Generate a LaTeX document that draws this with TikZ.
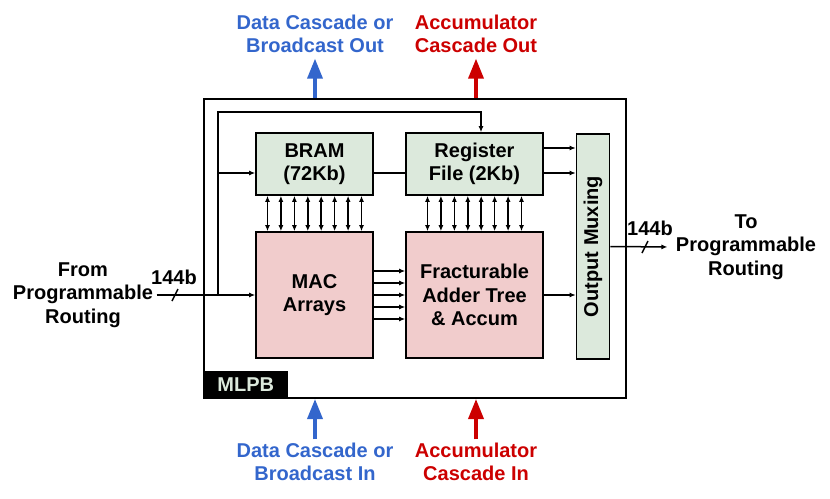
\documentclass[tikz,border=0pt]{standalone}
\usepackage{fontspec}
\setmainfont{Liberation Sans}
\usepackage{tikz}
\usetikzlibrary{arrows.meta}
\definecolor{blockgreen}{RGB}{220,233,220}
\definecolor{blockpink}{RGB}{241,204,204}
\definecolor{cascblue}{RGB}{51,102,204}
\definecolor{cascred}{RGB}{204,0,0}
\tikzstyle{lbl}=[font=\fontsize{20}{23.5}\selectfont\bfseries,align=center]
\tikzstyle{block}=[draw,line width=1.6pt,inner sep=0pt,lbl]
\tikzstyle{wire}=[line width=1.5pt]
\tikzstyle{bigup}=[line width=3.5pt,-{Triangle[width=15pt,length=20pt]}]

\begin{document}
\begin{tikzpicture}[x=1pt,y=-1pt,>={Latex[length=6pt,width=5pt]}]
\useasboundingbox (0,0) rectangle (830,498);
% MLPB outline
\node[draw,line width=2pt,minimum width=422,minimum height=299] (mlpb) at (415,248.5) {};
\node[fill=black,anchor=south west,minimum width=85,minimum height=28,inner sep=0pt,lbl,text=blockgreen] (mlpb-tag) at (mlpb.south west) {MLPB};
% blocks
\node[block,fill=blockgreen,minimum width=117,minimum height=62] (bram) at (314.5,164) {BRAM\\(72Kb)};
\node[block,fill=blockgreen,minimum width=137,minimum height=62] (regfile) at (474.5,164) {Register\\File (2Kb)};
\node[block,fill=blockpink,minimum width=117,minimum height=126] (mac) at (314.5,295) {MAC\\Arrays};
\node[block,fill=blockpink,minimum width=137,minimum height=126] (adder) at (474.5,295) {Fracturable\\Adder Tree\\\& Accum};
\node[block,fill=blockgreen,minimum width=33,minimum height=225] (outmux) at (593,246.5) {};
\node[lbl,rotate=90] (outmux-lbl) at (outmux) {Output Muxing};
% buses between memories and compute
\foreach \dx in {-47,-33.6,-20.1,-6.7,6.7,20.1,33.6,47}
  {\draw[wire,<->] ([xshift=\dx pt]bram.south) -- ([xshift=\dx pt]mac.north);
   \draw[wire,<->] ([xshift=\dx pt]regfile.south) -- ([xshift=\dx pt]adder.north);}
\foreach \dy in {-24,-12,0,12,24}
  \draw[wire,->] ([yshift=\dy pt]mac.east) -- ([yshift=\dy pt]adder.west);
% to output muxing
\coordinate (rf-o1) at ([yshift=16pt]regfile.east);
\coordinate (rf-o2) at ([yshift=-9pt]regfile.east);
\foreach \p in {rf-o1,rf-o2,adder.east}
  \draw[wire,->] (\p) -- (\p -| outmux.west);
\coordinate (bram-o) at ([yshift=-9pt]bram.east);
\draw[wire] (bram-o) -- (bram-o -| regfile.west);
% input side
\node[lbl] (in-lbl) at (83,295) {From\\Programmable\\Routing};
\coordinate (in-tap) at (218,295);
\coordinate (fb-top) at (218,112);
\coordinate (bram-in) at ([yshift=-9pt]bram.west);
\coordinate (in-bus) at (175,295);
\draw[wire,->] (in-lbl.east) -- (mac.west);
\draw[wire,->] (in-tap) -- (fb-top) -| ([xshift=6.5pt]regfile.north);
\draw[wire,->] (in-tap |- bram-in) -- (bram-in);
\draw[wire] ([shift={(-3,6)}]in-bus) -- ([shift={(3,-6)}]in-bus);
\node[lbl] (in-width) at (174,277) {144b};
% output side
\node[lbl] (out-lbl) at (746,247) {To\\Programmable\\Routing};
\coordinate (out-bus) at (645,247);
\draw[wire,->,shorten >=5pt] (outmux.east) -- (out-lbl.west);
\draw[wire] ([shift={(-3,6)}]out-bus) -- ([shift={(3,-6)}]out-bus);
\node[lbl] (out-width) at (650,228) {144b};
% cascades
\node[lbl,text=cascblue] (dc-out) at (315,34) {Data Cascade or\\Broadcast Out};
\node[lbl,text=cascred] (ac-out) at (476,34) {Accumulator\\Cascade Out};
\node[lbl,text=cascblue] (dc-in) at (315,462) {Data Cascade or\\Broadcast In};
\node[lbl,text=cascred] (ac-in) at (476,462) {Accumulator\\Cascade In};
\draw[bigup,cascblue,shorten >=2pt] (mlpb.north -| dc-out) -- (dc-out.south);
\draw[bigup,cascred,shorten >=2pt] (mlpb.north -| ac-out) -- (ac-out.south);
\draw[bigup,cascblue] (dc-in.north) -- (mlpb.south -| dc-in);
\draw[bigup,cascred] (ac-in.north) -- (mlpb.south -| ac-in);
\end{tikzpicture}
\end{document}
